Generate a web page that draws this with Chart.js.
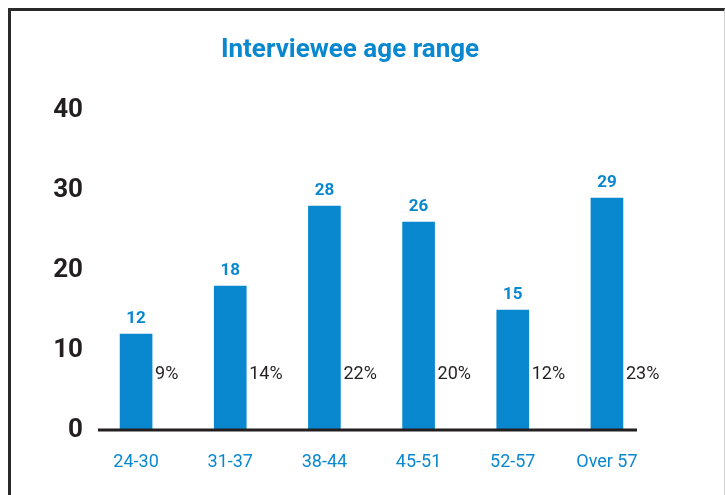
<!DOCTYPE html>
<html>
<head>
<meta charset="utf-8">
<script src="https://cdn.jsdelivr.net/npm/chart.js@4"></script>
<style>
  html, body { margin: 0; padding: 0; background: #fff; }
  #wrap { position: relative; width: 725px; height: 495px; overflow: hidden; }
  #frame { position: absolute; left: 8px; top: 8px; width: 713px; height: 495px;
           border-left: 3px solid #2a2a2a; border-top: 3px solid #2a2a2a; border-right: 1px solid #cfcfcf; box-sizing: content-box; }
  canvas { position: absolute; left: 0; top: 0; }
</style>
</head>
<body>
<div id="wrap">
  <div id="frame"></div>
  <canvas id="c" width="725" height="495"></canvas>
</div>
<script>
const titleText = 'Interviewee age range';
const categories = ['24-30', '31-37', '38-44', '45-51', '52-57', 'Over 57'];
const counts = [12, 18, 28, 26, 15, 29];
const percents = ['9%', '14%', '22%', '20%', '12%', '23%'];
const yTicks = [0, 10, 20, 30, 40];

const BLUE = '#0a88cf';
const DARK = '#231f20';
const FONT = 'Roboto, "DejaVu Sans", sans-serif';

const labelsPlugin = {
  id: 'barLabels',
  afterDatasetsDraw(chart) {
    const ctx = chart.ctx;
    const meta = chart.getDatasetMeta(0);
    const y = chart.scales.y;
    const area = chart.chartArea;
    ctx.save();
    // baseline
    const y0 = y.getPixelForValue(0);
    ctx.strokeStyle = DARK;
    ctx.lineWidth = 3;
    ctx.beginPath();
    ctx.moveTo(area.left + 9, y0);
    ctx.lineTo(area.right - 17, y0);
    ctx.stroke();
    meta.data.forEach((bar, i) => {
      // value above bar
      ctx.fillStyle = BLUE;
      ctx.font = 'bold 17px ' + FONT;
      ctx.textAlign = 'center';
      ctx.textBaseline = 'alphabetic';
      ctx.fillText(String(counts[i]), bar.x, bar.y - 11);
      // percentage beside bar
      ctx.fillStyle = DARK;
      ctx.font = '18px ' + FONT;
      ctx.textAlign = 'left';
      ctx.textBaseline = 'middle';
      ctx.fillText(percents[i], bar.x + bar.width / 2 + 3, y.getPixelForValue(6.9));
    });
    ctx.restore();
  }
};

new Chart(document.getElementById('c'), {
  type: 'bar',
  data: {
    labels: categories,
    datasets: [{
      data: counts,
      backgroundColor: BLUE,
      borderWidth: 0,
      barThickness: 32
    }]
  },
  options: {
    responsive: false,
    animation: false,
    layout: { padding: { left: 46, right: 71, top: 0, bottom: 25 } },
    plugins: {
      legend: { display: false },
      tooltip: { enabled: false },
      title: {
        display: true,
        text: titleText,
        color: BLUE,
        font: { family: FONT, size: 26, weight: 'bold' },
        padding: { top: 35, bottom: 44 }
      }
    },
    scales: {
      x: {
        grid: { display: false, drawTicks: false },
        border: { display: false },
        ticks: { color: BLUE, font: { family: FONT, size: 18 }, padding: 22 },
        afterFit(scale) { scale.height = 40; }
      },
      y: {
        min: 0,
        max: 40,
        afterBuildTicks(scale) { scale.ticks = yTicks.map(v => ({ value: v })); },
        grid: { display: false, drawTicks: false },
        border: { display: false },
        ticks: { color: DARK, font: { family: FONT, size: 26, weight: 'bold' }, padding: 6 },
        afterFit(scale) { scale.width = 43; }
      }
    }
  },
  plugins: [labelsPlugin]
});
</script>
</body>
</html>
